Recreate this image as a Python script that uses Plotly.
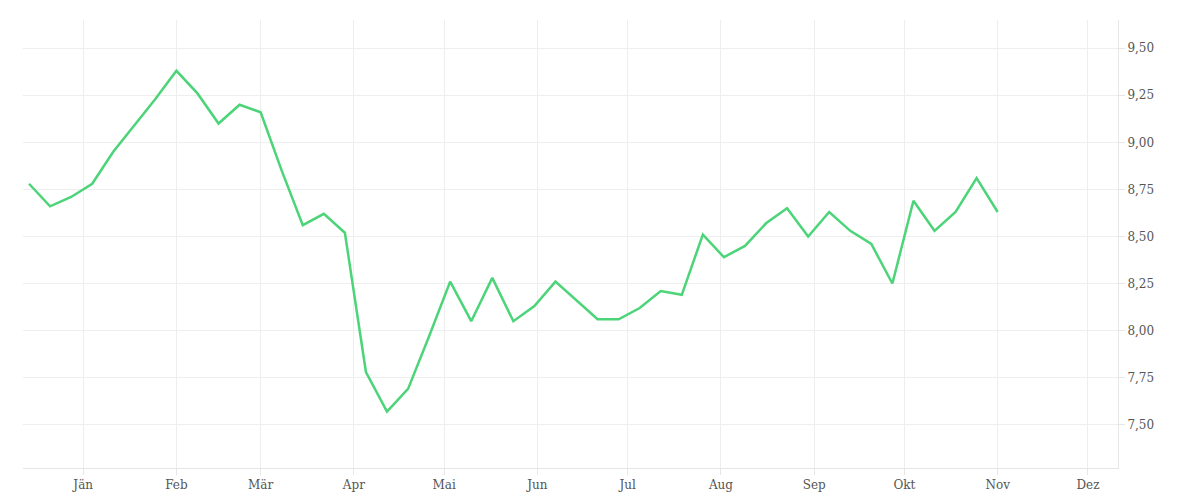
import pandas as pd
import plotly.graph_objects as go

# Wöchentliche Werte (Dez 2020 - Nov 2021)
start_date = "2020-12-14"
n_weeks = 47
values = [8.78, 8.66, 8.71, 8.78, 8.95, 9.09, 9.23, 9.38, 9.26, 9.10,
          9.20, 9.16, 8.85, 8.56, 8.62, 8.52, 7.78, 7.57, 7.69, 7.97,
          8.26, 8.05, 8.28, 8.05, 8.13, 8.26, 8.16, 8.06, 8.06, 8.12,
          8.21, 8.19, 8.51, 8.39, 8.45, 8.57, 8.65, 8.50, 8.63, 8.53,
          8.46, 8.25, 8.69, 8.53, 8.63, 8.81, 8.63]
month_ticks = pd.date_range("2021-01-01", "2021-12-01", freq="MS")
month_labels = ["Jän", "Feb", "Mär", "Apr", "Mai", "Jun",
                "Jul", "Aug", "Sep", "Okt", "Nov", "Dez"]
y_ticks = [7.5, 7.75, 8.0, 8.25, 8.5, 8.75, 9.0, 9.25, 9.5]

dates = pd.date_range(start_date, periods=n_weeks, freq="7D")

fig = go.Figure()
fig.add_trace(go.Scatter(x=dates, y=values, mode="lines",
                         line=dict(color="#4cd479", width=2.5),
                         hoverinfo="x+y"))

fig.update_layout(
    width=1200, height=500,
    margin=dict(l=15, r=90, t=12, b=40),
    plot_bgcolor="white", paper_bgcolor="white",
    separators=",.",
    showlegend=False,
    font=dict(family="DejaVu Serif", size=12, color="#555555"),
)
fig.update_xaxes(
    range=["2020-12-12", "2021-12-11"],
    tickvals=month_ticks, ticktext=month_labels,
    showgrid=True, gridcolor="#eeeeee",
    showline=True, linecolor="#e6e6e6",
    ticks="outside", ticklen=6, tickcolor="#e6e6e6",
    zeroline=False,
)
fig.update_yaxes(
    side="right", range=[7.27, 9.65],
    tickvals=y_ticks, tickformat=".2f",
    showgrid=True, gridcolor="#eeeeee",
    showline=True, linecolor="#e6e6e6",
    ticks="outside", ticklen=6, tickcolor="#e6e6e6",
    zeroline=False,
)

fig.write_html("out.html")
